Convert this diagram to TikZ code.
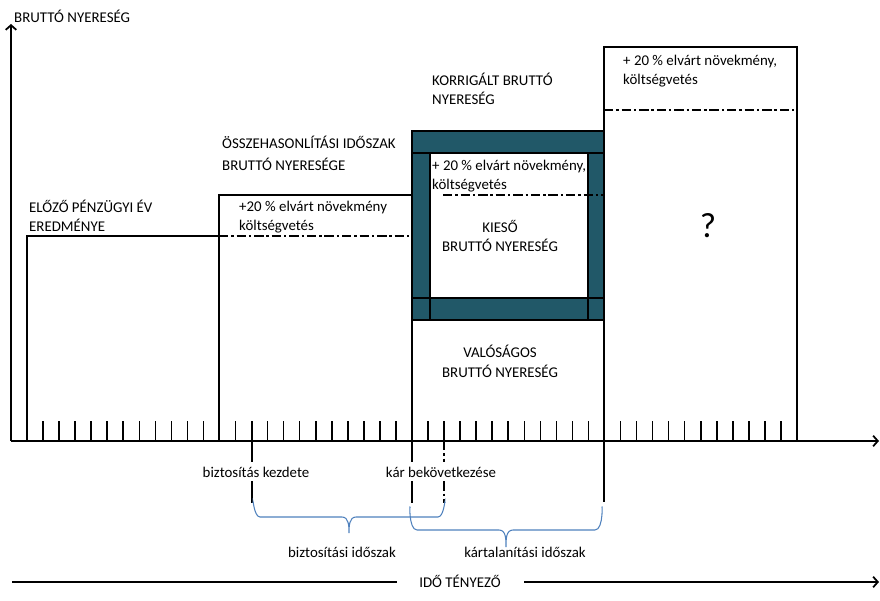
\documentclass[tikz,border=0pt]{standalone}
\usepackage{fontspec}
\setmainfont{Carlito}
\usetikzlibrary{arrows.meta}
\usetikzlibrary{calc}
\definecolor{frameteal}{RGB}{33,88,104}
\definecolor{braceblue}{RGB}{79,129,189}

\begin{document}
\begin{tikzpicture}[x=0.03cm,y=-0.03cm,
        every node/.style={font=\fontsize{12.7}{16.3}\selectfont,inner sep=0pt},
        box/.style={draw=black,line width=1.2pt},
        dashdot/.style={line width=1.4pt,dash pattern=on 8pt off 2.5pt on 2pt off 2.5pt},
        tickline/.style={line width=1.3pt},
        markline/.style={line width=1.5pt},
        brace/.style={draw=braceblue,line width=0.9pt},
        axis/.style={line width=1.5pt,-{Straight Barb[length=4pt,width=9pt]}},
        lefttext/.style={anchor=base west,align=left},
        midtext/.style={anchor=base,align=center}]
    \useasboundingbox (0,0) rectangle (880,601);

    % columns
    \draw[box] (27,441) |- (219,236);
    \draw[box] (219,441) |- (412,195) -- (412,441);
    \draw[box] (604,441) -- (604,47) -| (797,441);

    % lost profit frame
    \filldraw[fill=frameteal,draw=black,line width=2.5pt] (412,131) rectangle (604,320);
    \filldraw[fill=white,draw=black,line width=2pt] (430,153) rectangle (588,298);
    \draw[line width=2pt] (412,153) -- (604,153);
    \draw[line width=2pt] (412,298) -- (604,298);
    \draw[line width=2pt] (430,153) -- (430,320);
    \draw[line width=2pt] (588,153) -- (588,320);

    \draw[dashdot] (219,236) -- (412,236);
    \draw[dashdot] (443,195) -- (604,195);
    \draw[dashdot] (604,110) -- (797,110);

    % ticks
    \foreach \s in {27,219.5,412,604.5}
        \foreach \i in {1,...,11}
            \draw[tickline] (\s+\i*16.04,441) -- ++(0,-20);

    % axes
    \coordinate (origin) at (11,441);
    \coordinate (yend) at (11,24);
    \coordinate (xend) at (879,441);
    \draw[axis] (origin) -- (yend);
    \draw[axis] (origin) -- (xend);
    \node[lefttext] (yLabel) at (14,23) {BRUTTÓ NYERESÉG};

    % texts in the columns (base = last line)
    \node[lefttext] (prevYear) at (29,232) {ELŐZŐ PÉNZÜGYI ÉV\\EREDMÉNYE};
    \node[lefttext] (compPeriod) at (222,171) {ÖSSZEHASONLÍTÁSI IDŐSZAK\\[2.5pt]BRUTTÓ NYERESÉGE};
    \node[lefttext] (growthA) at (239,231) {+20 \% elvárt növekmény\\költségvetés};
    \node[lefttext] (corrected) at (432,105) {KORRIGÁLT BRUTTÓ\\NYERESÉG};
    \node[lefttext] (growthB) at (432,190) {+ 20 \% elvárt növekmény,\\költségvetés};
    \node[midtext] (lost) at (500,252) {KIESŐ\\BRUTTÓ NYERESÉG};
    \node[midtext] (actual) at (500,377) {VALÓSÁGOS\\BRUTTÓ NYERESÉG};
    \node[lefttext] (growthC) at (623,85) {+ 20 \% elvárt növekmény,\\költségvetés};
    \node[font=\fontsize{30}{34}\selectfont] (unknown) at (708,226) {?};

    % events under the axis
    \node[midtext] (start) at (256,477) {biztosítás kezdete};
    \node[midtext] (damage) at (441,477) {kár bekövetkezése};
    \coordinate (startTop) at (252,421);
    \coordinate (startBot) at (252,503);
    \coordinate (damageTop) at (412,441);
    \coordinate (damageBot) at (412,503);
    \coordinate (restartTop) at (444,441);
    \coordinate (restartBot) at (444,503);
    \coordinate (endTop) at (604,441);
    \coordinate (endBot) at (604,502);
    \draw[markline] (startTop) -- ($(startTop |- start.north)+(0,-4)$);
    \draw[markline] ($(startBot |- start.south)+(0,4)$) -- (startBot);
    \draw[markline] (damageTop) -- ($(damageTop |- damage.north)+(0,-4)$);
    \draw[markline] ($(damageBot |- damage.south)+(0,4)$) -- (damageBot);
    \draw[dashdot] (restartTop) -- ($(restartTop |- damage.north)+(0,-4)$);
    \draw[dashdot] ($(restartBot |- damage.south)+(0,4)$) -- (restartBot);
    \draw[markline] (endTop) -- (endBot);

    % periods
    \draw[brace] (253,503) to[out=90,in=180] (260,517) -- (342,517) to[out=0,in=90] (349,533)
        to[out=90,in=180] (356,517) -- (438,517) to[out=0,in=90] (445,503);
    \draw[brace] (410,508) to[out=90,in=180] (417,530) -- (499,530) to[out=0,in=90] (506,547)
        to[out=90,in=180] (513,530) -- (595,530) to[out=0,in=90] (602,508);
    \node[midtext] (insPeriod) at (342,557) {biztosítási időszak};
    \node[midtext] (indPeriod) at (525,557) {kártalanítási időszak};

    % time factor
    \node[midtext] (timeFactor) at (460,587) {IDŐ TÉNYEZŐ};
    \coordinate (timeStart) at (12,582);
    \coordinate (timeEnd) at (879,582);
    \draw[line width=1.5pt] (timeStart) -- (timeStart -| 397,0);
    \draw[axis] (timeEnd -| 524,0) -- (timeEnd);
\end{tikzpicture}
\end{document}
